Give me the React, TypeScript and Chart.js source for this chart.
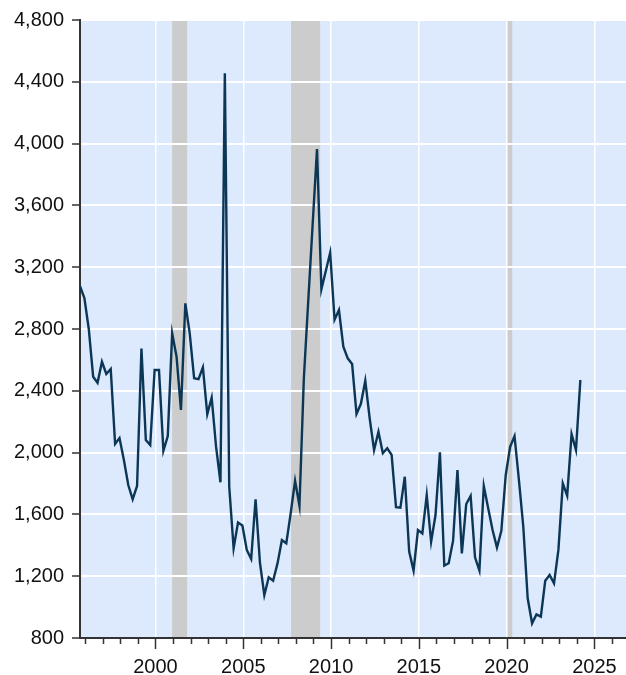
import React, { useEffect, useRef } from "react";
import { Chart, registerables } from "chart.js";

Chart.register(...registerables);

const START_YEAR = 1995.7; // first quarterly observation (decimal year)
const X_MIN = 1995.7;
const X_MAX = 2026.8;

const VALUES: number[] = [
  3078, 3000, 2800, 2491, 2452, 2588, 2509, 2541, 2056, 2094,
  1952, 1790, 1698, 1784, 2673, 2082, 2049, 2535, 2535, 2012,
  2107, 2772, 2621, 2276, 2966, 2772, 2481, 2476, 2552, 2248,
  2355, 2038, 1808, 4455, 1780, 1381, 1547, 1528, 1370, 1311,
  1698, 1287, 1078, 1193, 1171, 1283, 1434, 1413, 1607, 1818,
  1656, 2480, 2980, 3475, 3965, 3057, 3175, 3294, 2860, 2923,
  2686, 2610, 2573, 2250, 2316, 2465, 2222, 2017, 2135, 1996,
  2028, 1985, 1647, 1643, 1844, 1359, 1236, 1499, 1477, 1725,
  1423, 1596, 2002, 1269, 1284, 1430, 1887, 1348, 1667, 1719,
  1322, 1236, 1784, 1640, 1499, 1385, 1494, 1855, 2038, 2107,
  1823, 1520, 1057, 895, 953, 938, 1171, 1208, 1154, 1370,
  1801, 1721, 2120, 2017, 2470,
];

const RECESSIONS: [number, number][] = [
  [2000.95, 2001.8],
  [2007.72, 2009.38],
  [2020.0, 2020.32],
];

const X_TICKS: number[] = [
  1996, 1997, 1998, 1999, 2000, 2001, 2002, 2003, 2004, 2005, 2006,
  2007, 2008, 2009, 2010, 2011, 2012, 2013, 2014, 2015, 2016, 2017,
  2018, 2019, 2020, 2021, 2022, 2023, 2024, 2025, 2026,
];
const Y_TICKS: number[] = [800, 1200, 1600, 2000, 2400, 2800, 3200, 3600, 4000, 4400, 4800];

const BG = "#dde9fc";
const SHADE = "#cccccc";
const LINE = "#0b3656";
const AXIS = "#333333";
const FONT = "'Liberation Sans', Arial, sans-serif";

const backgroundPlugin = {
  id: "bgShade",
  beforeDraw(chart: any) {
    const { ctx, chartArea, scales } = chart;
    const x = scales.x;
    ctx.save();
    ctx.fillStyle = BG;
    ctx.fillRect(chartArea.left, chartArea.top, chartArea.right - chartArea.left, chartArea.bottom - chartArea.top);
    ctx.fillStyle = SHADE;
    RECESSIONS.forEach(([a, b]) => {
      const x0 = x.getPixelForValue(a);
      const x1 = x.getPixelForValue(b);
      ctx.fillRect(x0, chartArea.top, x1 - x0, chartArea.bottom - chartArea.top);
    });
    ctx.restore();
  },
  afterDraw(chart: any) {
    const { ctx, chartArea, scales } = chart;
    const x = scales.x;
    ctx.save();
    ctx.strokeStyle = AXIS;
    ctx.lineWidth = 1.5;
    x.ticks.forEach((t: any) => {
      const px = Math.round(x.getPixelForValue(t.value)) + 0.5;
      const len = t.value % 5 === 0 ? 11 : 6;
      ctx.beginPath();
      ctx.moveTo(px, chartArea.bottom);
      ctx.lineTo(px, chartArea.bottom + len);
      ctx.stroke();
    });
    ctx.restore();
  },
};

export default function App() {
  const ref = useRef<HTMLCanvasElement | null>(null);

  useEffect(() => {
    if (!ref.current) return;
    const data = VALUES.map((v, i) => ({ x: START_YEAR + i * 0.25, y: v }));
    const chart = new Chart(ref.current, {
      type: "line",
      data: {
        datasets: [
          {
            data,
            borderColor: LINE,
            borderWidth: 2.4,
            pointRadius: 0,
            tension: 0,
            fill: false,
          },
        ],
      },
      options: {
        animation: false,
        responsive: false,
        maintainAspectRatio: false,
        layout: { padding: { top: 20, right: 0, left: 0, bottom: 0 } },
        plugins: { legend: { display: false }, tooltip: { enabled: false } },
        scales: {
          x: {
            type: "linear",
            min: X_MIN,
            max: X_MAX,
            afterBuildTicks: (scale: any) => {
              scale.ticks = X_TICKS.map((v) => ({ value: v }));
            },
            afterFit: (scale: any) => {
              scale.height = 37;
              scale.paddingLeft = 0;
              scale.paddingRight = 0;
            },
            ticks: {
              autoSkip: false,
              maxRotation: 0,
              padding: 17,
              color: "#111",
              font: { family: FONT, size: 20 },
              callback: (v: any) => (Number(v) % 5 === 0 ? String(v) : ""),
            },
            grid: {
              drawTicks: false,
              lineWidth: 1.5,
              color: (c: any) => (c.tick && c.tick.value % 5 === 0 ? "#ffffff" : "rgba(0,0,0,0)"),
            },
            border: { display: true, color: AXIS, width: 2 },
          },
          y: {
            type: "linear",
            min: 800,
            max: 4800,
            afterBuildTicks: (scale: any) => {
              scale.ticks = Y_TICKS.map((v) => ({ value: v }));
            },
            afterFit: (scale: any) => {
              scale.width = 80;
              scale.paddingTop = 0;
              scale.paddingBottom = 0;
            },
            ticks: {
              padding: 8,
              color: "#111",
              font: { family: FONT, size: 20 },
              callback: (v: any) => Number(v).toLocaleString("en-US"),
            },
            grid: {
              drawTicks: true,
              tickLength: 8,
              tickColor: AXIS,
              tickWidth: 1.5,
              lineWidth: 2,
              color: "#ffffff",
            },
            border: { display: true, color: AXIS, width: 2 },
          },
        },
      },
      plugins: [backgroundPlugin],
    });
    return () => chart.destroy();
  }, []);

  return (
    <div style={{ position: "absolute", left: 0, top: 0, width: 626, height: 675, background: "#fff" }}>
      <canvas ref={ref} width={626} height={675} style={{ display: "block" }} />
    </div>
  );
}
